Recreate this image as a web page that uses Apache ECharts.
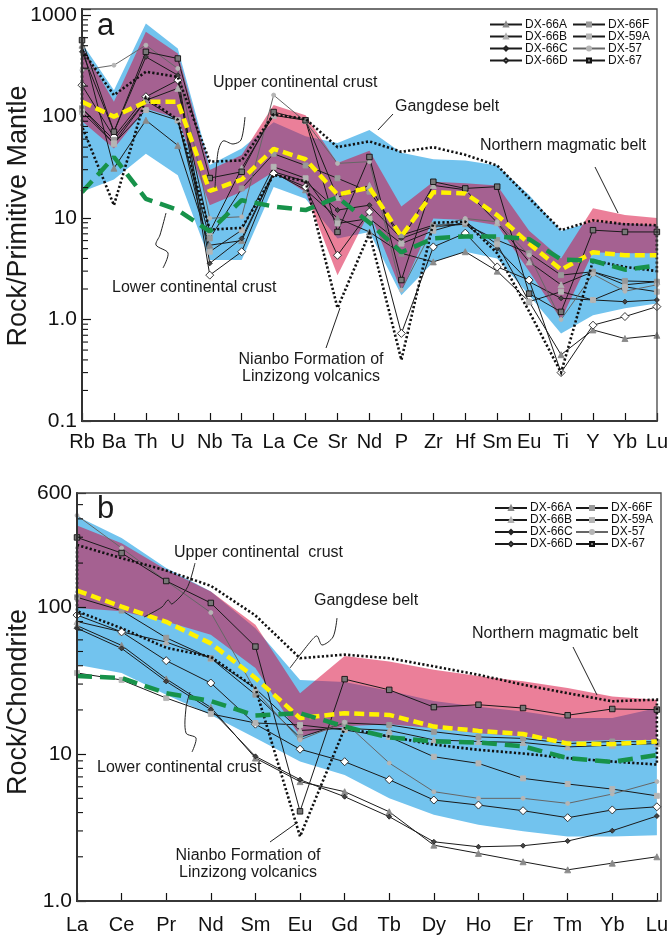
<!DOCTYPE html>
<html><head><meta charset="utf-8">
<script src="https://cdn.jsdelivr.net/npm/echarts@6/dist/echarts.min.js"></script>
<style>html,body{margin:0;padding:0;background:#fff}#c{width:671px;height:936px}</style>
</head><body><div id="c"></div>
<script>
// ---------- categories & tick labels ----------
const catsA = ['Rb','Ba','Th','U','Nb','Ta','La','Ce','Sr','Nd','P','Zr','Hf','Sm','Eu','Ti','Y','Yb','Lu'];
const catsB = ['La','Ce','Pr','Nd','Sm','Eu','Gd','Tb','Dy','Ho','Er','Tm','Yb','Lu'];
const tickValsA = [0.1, 1, 10, 100, 1000];
const tickTextA = ['0.1', '1.0', '10', '100', '1000'];
const tickValsB = [1, 10, 100, 600];
const tickTextB = ['1.0', '10', '100', '600'];
const minorDecadesA = [0.1, 1, 10, 100];
const minorDecadesB = [1, 10, 100];
const minorSteps = [2, 3, 4, 5, 6, 7, 8, 9];

// ---------- panel a (primitive mantle normalised) ----------
const dx66A_a = [506, 31, 92, 52, 5.4, 6.0, 28, 19, 10, 7.3, 4.5, 3.7, 4.66, 3.0, 1.5, 0.45, 0.79, 0.65, 0.70];
const dx66B_a = [121, 54, 145, 190, 7.3, 31, 103, 92, 16, 21, 6.0, 21, 19, 9, 3.7, 2.2, 2.96, 2.2, 2.36];
const dx66C_a = [435, 71, 388, 256, 3.58, 6.3, 28.6, 23, 12, 13.4, 6.3, 8.2, 8.7, 5.0, 2.36, 1.62, 1.56, 1.5, 1.56];
const dx66D_a = [204, 63, 157, 229, 2.74, 4.66, 27.5, 20.3, 4.3, 11.5, 0.73, 5.2, 7.1, 3.3, 2.45, 0.30, 0.88, 1.07, 1.34];
const dx66F_a = [121, 59, 145, 92, 6.3, 19.6, 43, 33, 24.7, 18.2, 6.8, 8.5, 8.7, 6.07, 4.5, 2.74, 2.96, 2.4, 2.36];
const dx59A_a = [111, 54.5, 116, 92, 4.66, 7.6, 32, 24.7, 8.85, 9.9, 5.6, 7.5, 9.2, 5.5, 1.5, 1.88, 1.56, 2.1, 1.88];
const dx57_a  = [287, 321, 506, 298, 9.96, 10.3, 163, 89, 34.6, 36, 1.95, 8.0, 9.9, 9.2, 4.3, 1.0, 2.8, 1.9, 2.2];
const dx67_a  = [567, 71, 435, 374, 24.8, 28.6, 111, 92, 7.3, 40, 2.45, 22.8, 19.6, 20.4, 1.8, 1.19, 7.6, 7.3, 7.3];
const gangUpA = [530, 182, 828, 470, 33.3, 48.6, 88, 64, 55, 74, 44, 38, 37, 33, 16.9, 7.5, 9.2, 8.9, 8.5];
const gangLoA = [18.2, 24, 43, 26.5, 3.86, 3.86, 20.3, 15.5, 6.3, 7.3, 1.74, 3.7, 4.66, 4.0, 1.74, 0.73, 1.1, 1.29, 1.44];
const nmbUpA  = [487, 140, 686, 419, 29.7, 41.8, 130, 103, 35, 46, 13, 22.8, 22, 21, 7.5, 4.0, 12.5, 10.7, 10];
const nmbLoA  = [90, 48.6, 120, 96, 13.4, 18.2, 28.6, 18, 2.74, 11.5, 1.9, 9.9, 9.6, 8.5, 3.0, 1.0, 4.6, 4.5, 4.5];
const nianUpA = [452, 163, 277, 246, 36, 37, 105, 95, 50, 57, 45, 50, 42, 33, 15.7, 7.6, 9.5, 8.7, 8.5];
const nianLoA = [80, 13.4, 155, 93, 7.7, 8.0, 26.6, 23, 1.3, 7.1, 0.4, 9, 9.2, 4.5, 1.2, 0.3, 3.8, 3.3, 3.0];
const uccA = [140, 100, 140, 140, 18.5, 24, 48, 38, 17, 20, 6.6, 18, 17.5, 10.7, 5.6, 3.1, 4.6, 4.3, 4.3];
const lccA = [18, 40, 15.5, 12, 7.4, 15, 13, 12, 16, 9, 4.6, 6.3, 6.6, 6.6, 6.2, 3.9, 3.8, 3.1, 3.4];

// ---------- panel b (chondrite normalised) ----------
const dx66A_b = [75, 55, 32.5, 20.8, 9.4, 6.5, 5.55, 4.05, 2.4, 2.11, 1.85, 1.63, 1.81, 2.0];
const dx66B_b = [80, 68, 58, 45, 28, 14.5, 15, 14.5, 12.5, 12.2, 12.0, 11.2, 11.5, 11.8];
const dx66C_b = [72, 52.5, 31.3, 20.1, 9.66, 6.7, 5.13, 3.75, 2.53, 2.34, 2.38, 2.56, 3.01, 3.79];
const dx66D_b = [88.5, 68, 43.3, 30.5, 16, 10.8, 8.88, 6.7, 4.87, 4.5, 4.12, 3.69, 4.17, 4.38];
const dx66F_b = [117, 95, 62, 45, 25.4, 13, 16.3, 15.8, 14.2, 13.1, 12.8, 11.8, 12.2, 12.1];
const dx59A_b = [35.7, 32, 24.1, 18.8, 16.3, 15.8, 14.6, 13.1, 9.6, 8.65, 6.84, 6.26, 5.78, 5.2];
const dx57_b  = [422, 253, 151, 92, 27, 12.5, 16.5, 8.7, 5.55, 5.0, 5.0, 4.62, 5.35, 6.5];
const dx67_b  = [299, 234, 151, 107, 54, 4.08, 32.4, 27.4, 20.9, 21.7, 20.6, 18.4, 20.3, 20.1];
const gangUpB = [416, 296, 185, 128, 72, 32, 31, 27, 23, 21, 19.5, 17.6, 17.6, 20.6];
const gangLoB = [40.6, 35.7, 25.4, 18.5, 12.9, 8.9, 7.2, 5.0, 3.87, 3.3, 2.98, 2.75, 2.75, 2.8];
const nmbUpB  = [360, 273, 180, 128, 76, 26, 46.5, 42.8, 37.6, 34, 31.3, 28.2, 24.7, 23.5];
const nmbLoB  = [99, 94, 80, 65, 38.6, 13.2, 15.5, 16, 15, 13.9, 13.2, 12.2, 12.5, 12.5];
const nianUpB = [266, 216, 178, 140, 88, 45, 47.6, 45, 39.6, 34.7, 29.7, 26, 22.9, 23.5];
const nianLoB = [94, 72, 53, 46, 28.2, 2.75, 15, 13.2, 11.6, 10.7, 10.1, 9.4, 8.9, 8.5];
const uccB = [130, 101, 79.6, 56.8, 33, 17.6, 19, 18.5, 15.4, 14.4, 13.7, 11.8, 11.7, 12.2];
const lccB = [34, 33, 26, 23, 18.3, 19, 15.4, 13, 12.2, 12, 11.3, 9.4, 8.85, 9.85];

const sampleNames = ['DX-66A','DX-66B','DX-66C','DX-66D','DX-66F','DX-59A','DX-57','DX-67'];
const samplesA = [dx66A_a, dx66B_a, dx66C_a, dx66D_a, dx66F_a, dx59A_a, dx57_a, dx67_a];
const samplesB = [dx66A_b, dx66B_b, dx66C_b, dx66D_b, dx66F_b, dx59A_b, dx57_b, dx67_b];

// ---------- styles ----------
const FONT = '"Liberation Sans", Arial, Helvetica, sans-serif';
const markerStyle = [
  {symbol:'triangle', size:6, fill:'#8a8a8a', stroke:'#8a8a8a', line:'#1a1a1a'},
  {symbol:'triangle', size:6, fill:'#b0b0b0', stroke:'#b0b0b0', line:'#1a1a1a'},
  {symbol:'diamond',  size:5, fill:'#444',    stroke:'#222',    line:'#1a1a1a'},
  {symbol:'diamond',  size:8, fill:'#ffffff', stroke:'#222',    line:'#1a1a1a'},
  {symbol:'rect',     size:5, fill:'#999',    stroke:'#999',    line:'#1a1a1a'},
  {symbol:'rect',     size:5, fill:'#b5b5b5', stroke:'#b5b5b5', line:'#1a1a1a'},
  {symbol:'circle',   size:4, fill:'#b5b5b5', stroke:'#b5b5b5', line:'#666'},
  {symbol:'rect',     size:5.5, fill:'#777',  stroke:'#111',    line:'#1a1a1a'}
];
const GA = {left:82, top:9, width:575, height:412};
const GB = {left:77, top:493, width:584, height:408};
const BLUE = '#72C3EE';
const PINK = 'rgba(216,0,52,0.5)';

function fmt(vals, texts){
  return function(v){
    for (let i = 0; i < vals.length; i++) {
      if (Math.abs(Math.log10(v) - Math.log10(vals[i])) < 1e-3) return texts[i];
    }
    return '';
  };
}
function xAxisOpt(idx, cats, margin){
  return {type:'category', gridIndex:idx, data:cats, boundaryGap:false, z:10,
    axisLine:{show:true, onZero:false, lineStyle:{color:'#111', width:2}},
    axisTick:{show:true, inside:true, length:8, interval:0, lineStyle:{color:'#111', width:1.2}},
    axisLabel:{interval:0, fontSize:20, color:'#111', fontFamily:FONT, margin:margin},
    splitLine:{show:false}};
}
function yAxisOpt(idx, min, max, vals, texts){
  return {type:'log', logBase:10, gridIndex:idx, min:min, max:max, z:10,
    axisLine:{show:true, lineStyle:{color:'#111', width:2}},
    axisTick:{show:true, inside:true, length:9, lineStyle:{color:'#111', width:1.2}},
    minorTick:{show:false},
    axisLabel:{fontSize:21, color:'#111', fontFamily:FONT, margin:5, formatter:fmt(vals, texts), showMinLabel:true, showMaxLabel:true},
    splitLine:{show:false}};
}
function bandSeries(g, upper, lower, fill, z){
  return {type:'custom', xAxisIndex:g, yAxisIndex:g, silent:true, z:z, data:[[0, 1]],
    renderItem:function(params, api){
      const pts = [];
      for (let i = 0; i < upper.length; i++) pts.push(api.coord([i, upper[i]]));
      for (let i = lower.length - 1; i >= 0; i--) pts.push(api.coord([i, lower[i]]));
      return {type:'polygon', shape:{points:pts}, style:{fill:fill, stroke:null}};
    }};
}
function outlineSeries(g, upper, lower){
  return {type:'custom', xAxisIndex:g, yAxisIndex:g, silent:true, z:4, data:[[0, 1]],
    renderItem:function(params, api){
      const pts = [];
      for (let i = 0; i < upper.length; i++) pts.push(api.coord([i, upper[i]]));
      for (let i = lower.length - 1; i >= 0; i--) pts.push(api.coord([i, lower[i]]));
      return {type:'polygon', shape:{points:pts}, style:{fill:'none', stroke:'#111', lineWidth:2.6, lineDash:[2.2, 2.2]}};
    }};
}
function minorTickSeries(g, decades, max){
  const vals = [];
  decades.forEach(function(d){ minorSteps.forEach(function(s){ const v = d * s; if (v < max) vals.push([0, v]); }); });
  return {type:'custom', xAxisIndex:g, yAxisIndex:g, silent:true, z:11, data:vals,
    renderItem:function(params, api){
      const p = api.coord([0, api.value(1)]);
      return {type:'line', shape:{x1:p[0], y1:p[1], x2:p[0] + 6, y2:p[1]}, style:{stroke:'#111', lineWidth:1.1}};
    }};
}
function sampleSeries(g, arrs){
  return arrs.map(function(arr, k){
    const m = markerStyle[k];
    return {name:sampleNames[k], type:'line', xAxisIndex:g, yAxisIndex:g, data:arr, z:3, silent:true,
      symbol:m.symbol, symbolSize:m.size, showSymbol:true,
      lineStyle:{color:m.line, width:1},
      itemStyle:{color:m.fill, borderColor:m.stroke, borderWidth:0.9}};
  });
}
function dashSeries(g, arr, color, dash, w){
  return {type:'line', xAxisIndex:g, yAxisIndex:g, data:arr, z:5, silent:true, symbol:'none',
    lineStyle:{color:color, width:w, type:dash, cap:'butt'}};
}

const series = [].concat(
  [bandSeries(0, gangUpA, gangLoA, BLUE, 1), bandSeries(0, nmbUpA, nmbLoA, PINK, 1)],
  sampleSeries(0, samplesA),
  [outlineSeries(0, nianUpA, nianLoA),
   dashSeries(0, uccA, '#FFF200', [10, 5], 4.5), dashSeries(0, lccA, '#17924A', [15, 8], 4.5),
   minorTickSeries(0, minorDecadesA, 1150)],
  [bandSeries(1, gangUpB, gangLoB, BLUE, 1), bandSeries(1, nmbUpB, nmbLoB, PINK, 1)],
  sampleSeries(1, samplesB),
  [outlineSeries(1, nianUpB, nianLoB),
   dashSeries(1, uccB, '#FFF200', [10, 5], 4.5), dashSeries(1, lccB, '#17924A', [15, 8], 4.5),
   minorTickSeries(1, minorDecadesB, 600)]
);

function legendOpt(names, left, top){
  return {data:names, left:left, top:top, orient:'vertical', itemWidth:32, itemHeight:5, itemGap:0,
    padding:0, selectedMode:false, z:50,
    textStyle:{fontSize:12, color:'#111', fontFamily:FONT, lineHeight:11.5, padding:[0,0,0,-2]}};
}
function txt(x, y, s, size, align, extra){
  return Object.assign({type:'text', x:x, y:y, z:100, silent:true,
    style:{text:s, fontSize:size, fontFamily:FONT, fill:'#1a1a1a',
      textAlign:align, align:align, textVerticalAlign:'middle', verticalAlign:'middle'}}, extra || {});
}
function lead(points, smooth){
  return {type:'polyline', z:100, silent:true, shape:{points:points, smooth:smooth || 0},
    style:{stroke:'#222', lineWidth:1, fill:null}};
}
function frame(G){
  return {type:'rect', z:100, silent:true, shape:{x:G.left, y:G.top, width:G.width, height:G.height},
    style:{fill:null, stroke:'#444', lineWidth:1.3}};
}
function twoLine(x, y){
  return {type:'text', x:x, y:y, z:100, silent:true,
    style:{text:'Nianbo Formation of\nLinzizong volcanics', fontSize:16, fontFamily:FONT, fill:'#1a1a1a',
      textAlign:'center', align:'center', textVerticalAlign:'middle', verticalAlign:'middle', lineHeight:17}};
}

const graphics = [
  frame(GA), frame(GB),
  txt(19, 216, 'Rock/Primitive Mantle', 27, 'center', {rotation:Math.PI/2}),
  txt(19, 702, 'Rock/Chondrite', 27, 'center', {rotation:Math.PI/2}),
  txt(97, 26.5, 'a', 31, 'left'),
  txt(97, 509.5, 'b', 31, 'left'),
  // panel a annotations
  txt(213, 83, 'Upper continental crust', 16, 'left'),
  lead([[245,117],[241,140],[233,144],[223,141],[218,152],[215,188]], 0.3),
  txt(395, 107, 'Gangdese belt', 16, 'left'),
  lead([[393,114],[378,130]]),
  txt(480, 146, 'Northern magmatic belt', 16, 'left'),
  lead([[595,167],[618,213]]),
  txt(112, 288, 'Lower continental crust', 16, 'left'),
  lead([[166,213],[160,235],[156,245],[168,253],[163,268]], 0.3),
  twoLine(311, 368.5),
  lead([[326,348],[340,308]]),
  // panel b annotations
  txt(174, 553, 'Upper continental  crust', 16, 'left'),
  lead([[195,563],[187,588],[172,604],[168,600],[162,607],[144,617]], 0.3),
  txt(314, 601, 'Gangdese belt', 16, 'left'),
  lead([[337,618],[333,637],[322,645],[317,636],[311,641],[290,668]], 0.3),
  txt(472, 634, 'Northern magmatic belt', 16, 'left'),
  lead([[573,647],[597,695]]),
  txt(97, 768, 'Lower continental crust', 16, 'left'),
  lead([[190,692],[186,708],[186,733],[196,738],[192,752]], 0.3),
  twoLine(248, 864.5),
  lead([[270,842],[298,822]])
];

const chart = echarts.init(document.getElementById('c'), null, {renderer:'canvas'});
chart.setOption({
  animation:false,
  backgroundColor:'#ffffff',
  textStyle:{fontFamily:FONT},
  grid:[Object.assign({show:false}, GA), Object.assign({show:false}, GB)],
  xAxis:[xAxisOpt(0, catsA, 11), xAxisOpt(1, catsB, 14)],
  yAxis:[yAxisOpt(0, 0.1, 1150, tickValsA, tickTextA), yAxisOpt(1, 1, 600, tickValsB, tickTextB)],
  legend:[
    legendOpt(sampleNames.slice(0,4), 489, 18.5),
    legendOpt(sampleNames.slice(4), 572, 18.5),
    legendOpt(sampleNames.slice(0,4), 494, 502),
    legendOpt(sampleNames.slice(4), 575, 502)
  ],
  series:series,
  graphic:graphics
});
</script></body></html>
